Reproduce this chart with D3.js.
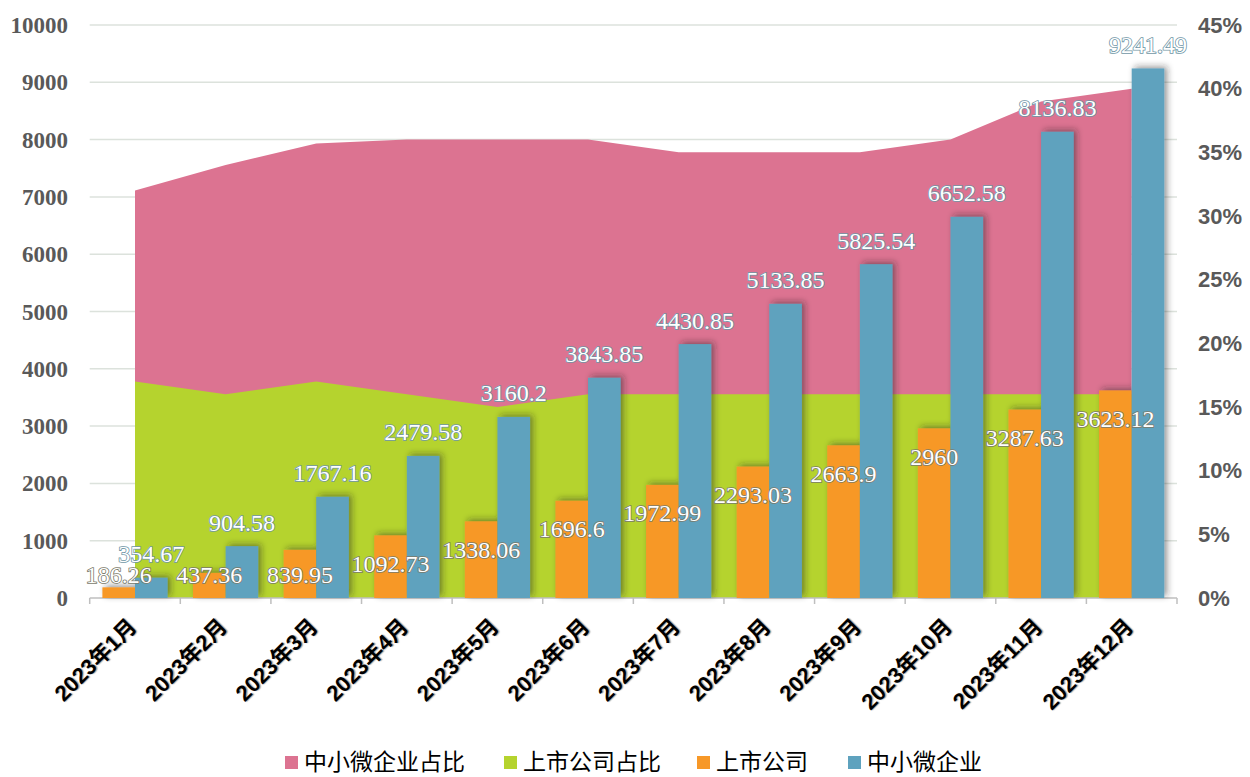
<!DOCTYPE html>
<html>
<head>
<meta charset="utf-8">
<script src="https://cdn.jsdelivr.net/npm/d3@7"></script>
<style>
  body { margin: 0; background: #fff; }
  svg { display: block; }
</style>
</head>
<body>
<svg id="chart" width="1250" height="777"></svg>
<script>
// categories and series
var months = ["2023年1月", "2023年2月", "2023年3月", "2023年4月", "2023年5月", "2023年6月",
              "2023年7月", "2023年8月", "2023年9月", "2023年10月", "2023年11月", "2023年12月"];
var listed = [186.26, 437.36, 839.95, 1092.73, 1338.06, 1696.6, 1972.99, 2293.03, 2663.9, 2960, 3287.63, 3623.12];
var smes = [354.67, 904.58, 1767.16, 2479.58, 3160.2, 3843.85, 4430.85, 5133.85, 5825.54, 6652.58, 8136.83, 9241.49];
var smeShare = [32, 34, 35.7, 36, 36, 36, 35, 35, 35, 36, 39, 40];
var listedShare = [17, 16, 17, 16, 15, 16, 16, 16, 16, 16, 16, 16];
var leftTicks = [0, 1000, 2000, 3000, 4000, 5000, 6000, 7000, 8000, 9000, 10000];
var rightTicks = [0, 5, 10, 15, 20, 25, 30, 35, 40, 45];
var legendItems = ["中小微企业占比", "上市公司占比", "上市公司", "中小微企业"];

var colors = {pink: "#dc7391", green: "#b5d32e", orange: "#f79828", blue: "#5ea2be"};

var margin = {left: 89.7, right: 1177, top: 25, bottom: 598};

var svg = d3.select("#chart");

// shadow for bars
var defs = svg.append("defs");
defs.append("filter").attr("id", "shadow")
    .attr("x", "-30%").attr("y", "-30%").attr("width", "160%").attr("height", "160%")
    .append("feDropShadow")
    .attr("dx", 3).attr("dy", -2).attr("stdDeviation", 3)
    .attr("flood-color", "#222").attr("flood-opacity", 0.45);

// scales
var x = d3.scaleBand().domain(months).range([margin.left, margin.right]);
var yL = d3.scaleLinear().domain([0, 10000]).range([margin.bottom, margin.top]);
var yR = d3.scaleLinear().domain([0, 45]).range([margin.bottom, margin.top]);
var barW = x.bandwidth() * 0.36;
var cx = function(i) { return x(months[i]) + x.bandwidth() / 2; };

// gridlines
svg.append("g").selectAll("line")
    .data(leftTicks.slice(1))
    .enter().append("line")
    .attr("x1", margin.left).attr("x2", margin.right)
    .attr("y1", d => yL(d)).attr("y2", d => yL(d))
    .attr("stroke", "#dce2dc").attr("stroke-width", 1.5);

// areas (right axis)
function drawArea(values, color) {
    var area = d3.area()
        .x((d, i) => cx(i))
        .y0(yR(0))
        .y1(d => yR(d));
    svg.append("path").datum(values)
        .attr("d", area)
        .attr("fill", color);
}
drawArea(smeShare, colors.pink);
drawArea(listedShare, colors.green);

// bottom axis
var axisG = svg.append("g");
axisG.append("line")
    .attr("x1", margin.left).attr("x2", margin.right)
    .attr("y1", margin.bottom).attr("y2", margin.bottom)
    .attr("stroke", "#bfbfbf").attr("stroke-width", 1.5);
axisG.selectAll(".tick")
    .data(d3.range(months.length + 1))
    .enter().append("line")
    .attr("x1", i => margin.left + i * x.bandwidth())
    .attr("x2", i => margin.left + i * x.bandwidth())
    .attr("y1", margin.bottom).attr("y2", margin.bottom + 6)
    .attr("stroke", "#bfbfbf").attr("stroke-width", 1.5);

// bars
var bars = svg.append("g").attr("filter", "url(#shadow)");
bars.selectAll(".bar-listed")
    .data(listed)
    .enter().append("rect")
    .attr("x", (d, i) => cx(i) - barW)
    .attr("y", d => yL(d))
    .attr("width", barW)
    .attr("height", d => yL(0) - yL(d))
    .attr("fill", colors.orange);
bars.selectAll(".bar-sme")
    .data(smes)
    .enter().append("rect")
    .attr("x", (d, i) => cx(i))
    .attr("y", d => yL(d))
    .attr("width", barW)
    .attr("height", d => yL(0) - yL(d))
    .attr("fill", colors.blue);

// value labels
var labelFont = "'Liberation Serif', 'DejaVu Serif', 'Noto Serif', 'Times New Roman', Times, serif";
svg.append("g").selectAll("text")
    .data(listed)
    .enter().append("text")
    .attr("x", (d, i) => cx(i) - barW / 2)
    .attr("y", d => Math.min(yL(d) + 28, 575))
    .attr("dy", "0.35em")
    .attr("text-anchor", "middle")
    .style("font-family", labelFont)
    .attr("font-size", 24)
    .attr("fill", "#fff")
    .attr("stroke", "#7a7a6a").attr("stroke-width", 1.6)
    .attr("paint-order", "stroke")
    .text(d => d);
svg.append("g").selectAll("text")
    .data(smes)
    .enter().append("text")
    .attr("x", (d, i) => cx(i) + barW / 2)
    .attr("y", d => yL(d) - 24)
    .attr("dy", "0.35em")
    .attr("text-anchor", "middle")
    .style("font-family", labelFont)
    .attr("font-size", 24)
    .attr("fill", "#fff")
    .attr("stroke", "#6f96a6").attr("stroke-width", 1.6)
    .attr("paint-order", "stroke")
    .text(d => d);

// left axis labels
svg.append("g").selectAll("text")
    .data(leftTicks)
    .enter().append("text")
    .attr("x", 68)
    .attr("y", d => yL(d))
    .attr("dy", "0.35em")
    .attr("text-anchor", "end")
    .style("font-family", labelFont)
    .attr("font-weight", "bold")
    .attr("font-size", 23)
    .attr("fill", "#595959")
    .text(d => d);

// right axis labels
svg.append("g").selectAll("text")
    .data(rightTicks)
    .enter().append("text")
    .attr("x", 1198)
    .attr("y", d => yR(d))
    .attr("dy", "0.35em")
    .attr("text-anchor", "start")
    .style("font-family", "'Liberation Sans', Arial, sans-serif")
    .attr("font-weight", "bold")
    .attr("font-size", 22)
    .attr("fill", "#595959")
    .text(d => d + "%");

// category labels
svg.append("g").selectAll("text")
    .data(months)
    .enter().append("text")
    .attr("transform", (d, i) => "translate(" + (cx(i) + 3) + ",628) rotate(-45)")
    .attr("text-anchor", "end")
    .style("font-family", "'Liberation Sans', Arial, 'Noto Sans CJK SC', sans-serif")
    .attr("font-weight", "bold")
    .attr("font-size", 22)
    .attr("fill", "#000")
    .style("text-shadow", "1px 1px 1px rgba(0,0,0,0.35)")
    .text(d => d);

// legend
var legendColors = [colors.pink, colors.green, colors.orange, colors.blue];
var legendX = [285, 504, 697, 848];
var legend = svg.append("g").selectAll("g")
    .data(legendItems)
    .enter().append("g")
    .attr("transform", (d, i) => "translate(" + legendX[i] + ",762)");
legend.append("rect")
    .attr("x", 0).attr("y", -6)
    .attr("width", 13).attr("height", 13)
    .attr("fill", (d, i) => legendColors[i]);
legend.append("text")
    .attr("x", 19)
    .attr("dy", "0.35em")
    .style("font-family", "'Noto Sans CJK SC', sans-serif")
    .attr("font-size", 23)
    .attr("fill", "#000")
    .text(d => d);
</script>
</body>
</html>
